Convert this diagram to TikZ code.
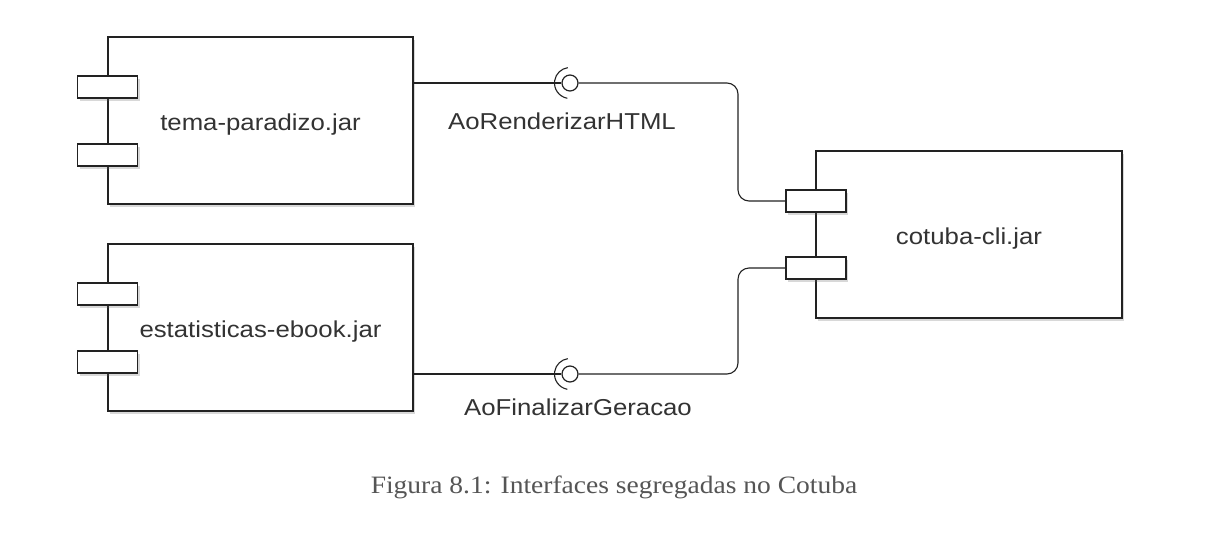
\documentclass[tikz,border=0pt]{standalone}
\usepackage{fontspec}
\setmainfont{Liberation Serif}
\newfontfamily\uisans[FakeStretch=1.12]{Liberation Sans}
\newfontfamily\capfont[FakeStretch=1.1]{Liberation Serif}
\usetikzlibrary{shadows}
\definecolor{linec}{HTML}{222222}
\definecolor{textc}{HTML}{333333}
\definecolor{capc}{HTML}{555555}
\begin{document}
\begin{tikzpicture}[x=1pt,y=-1pt,
  shadowed/.style={drop shadow={shadow xshift=2pt, shadow yshift=-2.5pt, opacity=0.25, fill=black!60}},
  comp/.style={draw=linec, line width=1.3pt, fill=white, shadowed, inner sep=0pt,
    minimum width=305pt, minimum height=167pt, text height=19.5pt, text depth=0pt,
    font=\uisans\fontsize{23}{27}\selectfont, text=textc},
  portbox/.style={draw=linec, line width=1.3pt, fill=white, shadowed, inner sep=0pt,
    minimum width=60pt, minimum height=22pt},
  ball/.style={circle, draw=linec, line width=1.2pt, fill=white, inner sep=0pt, minimum size=16pt},
  conn/.style={draw=linec, line width=1.1pt},
  iflabel/.style={anchor=base, font=\uisans\fontsize{23}{27}\selectfont, text=textc, inner sep=0pt}
]
\useasboundingbox (0,0) rectangle (1228,546);
\fill[white] (0,0) rectangle (1228,546);

% components
\node[comp] (tema) at (260.5,120.5) {tema-paradizo.jar};
\node[comp] (est) at (260.5,327.5) {estatisticas-ebook.jar};
\node[comp, minimum width=306pt] (cli) at (969,234.5) {cotuba-cli.jar};

% ports
\node[portbox] (temaP1) at (107.5,87) {};
\node[portbox] (temaP2) at (107.5,155) {};
\node[portbox] (estP1) at (107.5,294) {};
\node[portbox] (estP2) at (107.5,362) {};
\node[portbox] (cliP1) at (816,201) {};
\node[portbox] (cliP2) at (816,268) {};

% lollipops
\node[ball] (lolA) at (570,83) {};
\node[ball] (lolB) at (570,374) {};
\coordinate (bendA) at (738,201);
\coordinate (bendB) at (738,268);

% connectors
\draw[conn] (tema.east |- lolA) -- (lolA.west);
\draw[conn, rounded corners=11pt] (lolA.east) -| (bendA) -- (cliP1.west);
\draw[conn] (est.east |- lolB) -- (lolB.west);
\draw[conn, rounded corners=11pt] (lolB.east) -| (bendB) -- (cliP2.west);

% sockets
\draw[conn] (lolA.center) ++(100:15.5) arc[start angle=100, end angle=262, radius=15.5];
\draw[conn] (lolB.center) ++(100:15.5) arc[start angle=100, end angle=262, radius=15.5];

% interface labels
\node[iflabel] (labA) at (562,129.3) {AoRenderizarHTML};
\node[iflabel] (labB) at (578,415.7) {AoFinalizarGeracao};

% caption
\node[anchor=base, inner sep=0pt, text=capc, font=\capfont\fontsize{25}{29}\selectfont] (cap) at (614,493) {Figura 8.1: Interfaces segregadas no Cotuba};
\end{tikzpicture}
\end{document}
